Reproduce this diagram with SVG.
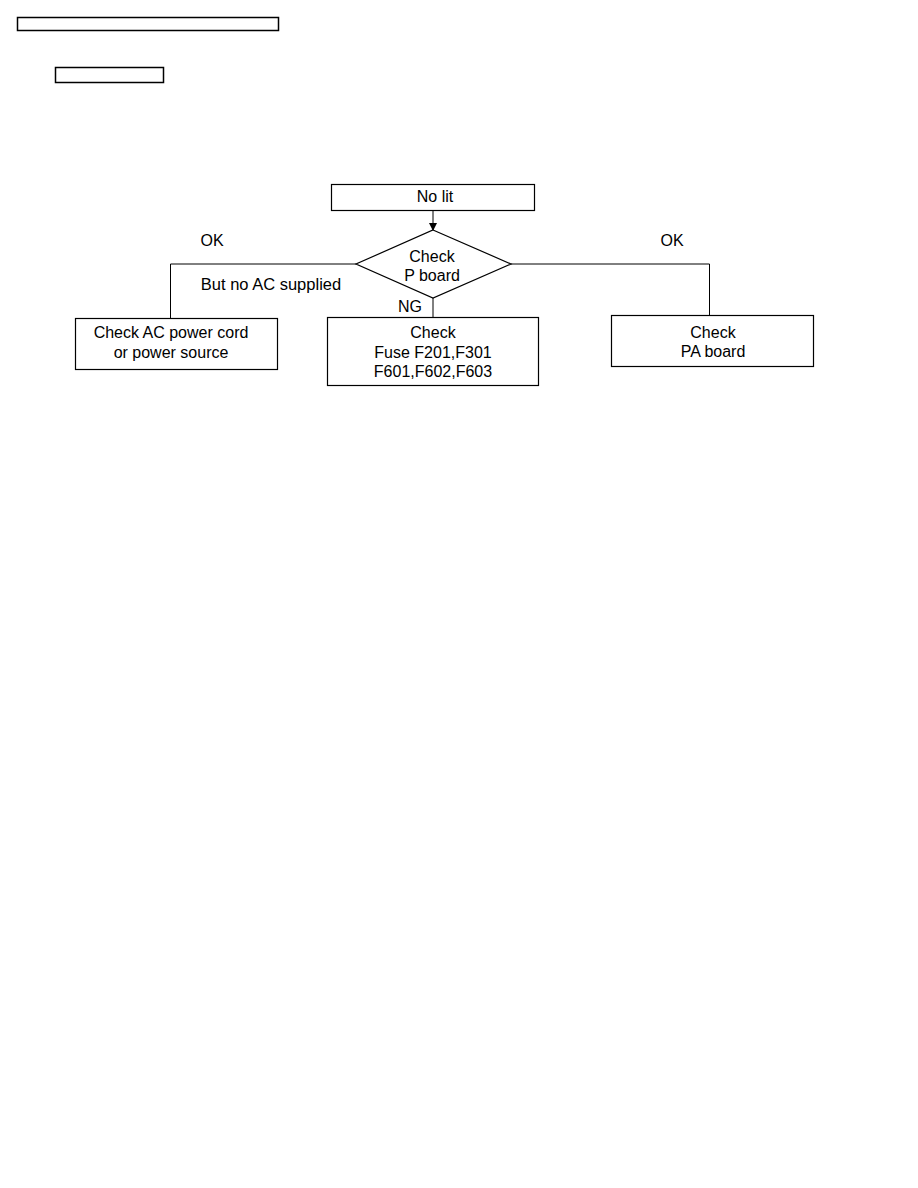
<svg xmlns="http://www.w3.org/2000/svg" width="918" height="1188" viewBox="0 0 918 1188">
<style>
.box{fill:#fff;stroke:#000;stroke-width:1.2}
.hdr{fill:none;stroke:#000;stroke-width:1.5}
.ln{fill:none;stroke:#000;stroke-width:1}
text{font-family:"Liberation Sans",Arial,sans-serif;font-size:16px;fill:#000;text-anchor:middle}
</style>
<defs>
<marker id="arr" markerWidth="8" markerHeight="8" refX="7" refY="4" orient="auto" markerUnits="userSpaceOnUse">
<path d="M0,0 L8,4 L0,8 z" fill="#000"/>
</marker>
</defs>
<rect class="hdr" x="17.5" y="17.5" width="261" height="13"/>
<rect class="hdr" x="55.5" y="67.5" width="108" height="15"/>
<g id="connectors">
<line class="ln" x1="433" y1="210" x2="433" y2="230" marker-end="url(#arr)"/>
<polyline class="ln" points="356,264 170.5,264 170.5,318"/>
<line class="ln" x1="433" y1="298" x2="433" y2="317"/>
<polyline class="ln" points="511,264 709.5,264 709.5,315"/>
<text x="212" y="246">OK</text>
<text x="271" y="290" style="font-size:16.5px">But no AC supplied</text>
<text x="672" y="246">OK</text>
<text x="410" y="312">NG</text>
</g>
<g id="nolit">
<rect class="box" x="331.5" y="184.5" width="203" height="26"/>
<text x="435" y="202">No lit</text>
</g>
<g id="checkp">
<polygon class="box" points="433,230 511,264 433,298 356,264"/>
<text x="432" y="262">Check</text>
<text x="432" y="281">P board</text>
</g>
<g id="checkac">
<rect class="box" x="75.5" y="318.5" width="202" height="51"/>
<text x="171" y="338">Check AC power cord</text>
<text x="171" y="358">or power source</text>
</g>
<g id="checkfuse">
<rect class="box" x="327.5" y="317.5" width="211" height="68"/>
<text x="433" y="338">Check</text>
<text x="433" y="358">Fuse F201,F301</text>
<text x="433" y="377">F601,F602,F603</text>
</g>
<g id="checkpa">
<rect class="box" x="611.5" y="315.5" width="202" height="51"/>
<text x="713" y="338">Check</text>
<text x="713" y="357">PA board</text>
</g>
</svg>
